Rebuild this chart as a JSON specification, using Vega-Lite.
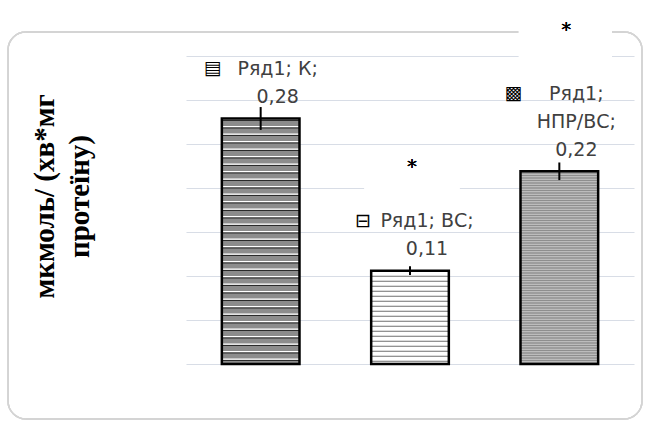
{
  "$schema": "https://vega.github.io/schema/vega-lite/v6.json",
  "width": 448,
  "height": 308,
  "autosize": {"type": "none"},
  "padding": {"left": 186, "top": 56, "right": 11, "bottom": 57},
  "background": "white",
  "config": {"view": {"stroke": null}, "font": "DejaVu Sans"},
  "data": {
    "values": [
      {"cat": "К", "value": 0.279, "lo": 0.266, "hi": 0.292, "v": "0,28", "l2": "Ряд1; К;", "l3": "", "i2": "▤", "i3": ""},
      {"cat": "ВС", "value": 0.106, "lo": 0.101, "hi": 0.111, "v": "0,11", "l2": "Ряд1; ВС;", "l3": "", "i2": "⊟", "i3": ""},
      {"cat": "НПР/ВС", "value": 0.219, "lo": 0.209, "hi": 0.229, "v": "0,22", "l2": "НПР/ВС;", "l3": "Ряд1;", "i2": "", "i3": "▩"}
    ]
  },
  "resolve": {"scale": {"x": "independent"}},
  "layer": [
    {
      "mark": {"type": "rect", "filled": false, "color": "#d4d4d4", "strokeWidth": 1.5, "cornerRadius": 18},
      "encoding": {
        "x": {"datum": -0.3973, "type": "quantitative", "scale": {"domain": [0, 1], "nice": false, "zero": false}, "axis": null},
        "x2": {"datum": 1.0179},
        "y": {"datum": 0.3773, "type": "quantitative"},
        "y2": {"datum": -0.0625}
      }
    },
    {
      "layer": [
        {
          "mark": {"type": "bar"},
          "encoding": {
            "x": {"field": "cat", "type": "nominal", "scale": {"domain": ["К", "ВС", "НПР/ВС"], "paddingInner": 0.48, "paddingOuter": 0.24}, "axis": null},
            "y": {
              "field": "value", "type": "quantitative",
              "scale": {"domain": [0, 0.35], "nice": false, "zero": true},
              "axis": {
                "values": [0, 0.05, 0.1, 0.15, 0.2, 0.25, 0.3, 0.35],
                "labels": false, "ticks": false, "domain": false,
                "grid": true, "gridColor": "#d8dde6", "gridWidth": 1.2,
                "title": ["мкмоль/ (хв*мг", "протеїну)"],
                "titleFont": "Liberation Serif", "titleFontSize": 29, "titleFontWeight": "bold",
                "titleColor": "black", "titleAngle": 270, "titleX": -142, "titleY": 140,
                "titleAlign": "center", "titleBaseline": "middle", "titleLineHeight": 35
              }
            },
            "color": {"field": "cat", "type": "nominal", "scale": {"domain": ["К", "ВС", "НПР/ВС"], "range": ["#8c8c8c", "#ffffff", "#8e8e8e"]}, "legend": null}
          }
        },
        {
          "transform": [{"filter": "datum.cat === 'К'"}],
          "mark": {"type": "rule", "color": "white", "strokeWidth": 77.6, "strokeDash": [1.2, 6.3]},
          "encoding": {"x": {"field": "cat", "type": "nominal"}, "y": {"field": "value", "type": "quantitative"}, "y2": {"datum": 0}}
        },
        {
          "transform": [{"filter": "datum.cat === 'К'"}],
          "mark": {"type": "rule", "color": "#2b2b2b", "strokeWidth": 77.6, "strokeDash": [1.1, 6.4], "strokeDashOffset": -1.5},
          "encoding": {"x": {"field": "cat", "type": "nominal"}, "y": {"field": "value", "type": "quantitative"}, "y2": {"datum": 0}}
        },
        {
          "transform": [{"filter": "datum.cat === 'ВС'"}],
          "mark": {"type": "rule", "color": "#707070", "strokeWidth": 77.6, "strokeDash": [1, 4]},
          "encoding": {"x": {"field": "cat", "type": "nominal"}, "y": {"field": "value", "type": "quantitative"}, "y2": {"datum": 0}}
        },
        {
          "transform": [{"filter": "datum.cat === 'НПР/ВС'"}],
          "mark": {"type": "rule", "color": "white", "opacity": 0.55, "strokeWidth": 77.6, "strokeDash": [1, 1.5]},
          "encoding": {"x": {"field": "cat", "type": "nominal"}, "y": {"field": "value", "type": "quantitative"}, "y2": {"datum": 0}}
        },
        {
          "mark": {"type": "bar", "filled": false, "color": "black", "strokeWidth": 2.5},
          "encoding": {"x": {"field": "cat", "type": "nominal"}, "y": {"field": "value", "type": "quantitative"}}
        },
        {
          "mark": {"type": "rule", "color": "black", "strokeWidth": 2},
          "encoding": {"x": {"field": "cat", "type": "nominal"}, "y": {"field": "lo", "type": "quantitative"}, "y2": {"field": "hi"}}
        },
        {
          "mark": {"type": "text", "font": "DejaVu Sans", "fontSize": 19, "color": "#404040", "align": "center", "baseline": "bottom", "dx": 17, "dy": -11.5},
          "encoding": {"x": {"field": "cat", "type": "nominal"}, "y": {"field": "value", "type": "quantitative"}, "text": {"field": "v"}}
        },
        {
          "mark": {"type": "text", "font": "DejaVu Sans", "fontSize": 19, "color": "#404040", "align": "center", "baseline": "bottom", "dx": 17, "dy": -39.5},
          "encoding": {"x": {"field": "cat", "type": "nominal"}, "y": {"field": "value", "type": "quantitative"}, "text": {"field": "l2"}}
        },
        {
          "mark": {"type": "text", "font": "DejaVu Sans", "fontSize": 19, "color": "#404040", "align": "center", "baseline": "bottom", "dx": 17, "dy": -67.5},
          "encoding": {"x": {"field": "cat", "type": "nominal"}, "y": {"field": "value", "type": "quantitative"}, "text": {"field": "l3"}}
        },
        {
          "mark": {"type": "text", "font": "DejaVu Sans", "fontSize": 19, "color": "black", "align": "right", "baseline": "bottom", "dx": -39, "dy": -40},
          "encoding": {"x": {"field": "cat", "type": "nominal"}, "y": {"field": "value", "type": "quantitative"}, "text": {"field": "i2"}}
        },
        {
          "mark": {"type": "text", "font": "DejaVu Sans", "fontSize": 19, "color": "black", "align": "right", "baseline": "bottom", "dx": -37, "dy": -68},
          "encoding": {"x": {"field": "cat", "type": "nominal"}, "y": {"field": "value", "type": "quantitative"}, "text": {"field": "i3"}}
        },
        {
          "mark": {"type": "bar", "color": "white", "width": 95, "xOffset": 2},
          "encoding": {"x": {"datum": "ВС", "type": "nominal"}, "y": {"datum": 0.198, "type": "quantitative"}, "y2": {"datum": 0.247}}
        },
        {
          "mark": {"type": "text", "text": "*", "font": "DejaVu Sans", "fontSize": 20, "color": "black", "align": "center", "baseline": "middle", "dx": 2, "dy": 2},
          "encoding": {"x": {"datum": "ВС", "type": "nominal"}, "y": {"datum": 0.2261, "type": "quantitative"}}
        },
        {
          "mark": {"type": "bar", "color": "white", "width": 93, "xOffset": 6},
          "encoding": {"x": {"datum": "НПР/ВС", "type": "nominal"}, "y": {"datum": 0.346, "type": "quantitative"}, "y2": {"datum": 0.405}}
        },
        {
          "mark": {"type": "text", "text": "*", "font": "DejaVu Sans", "fontSize": 20, "color": "black", "align": "center", "baseline": "middle", "dx": 7, "dy": 2},
          "encoding": {"x": {"datum": "НПР/ВС", "type": "nominal"}, "y": {"datum": 0.3815, "type": "quantitative"}}
        }
      ]
    }
  ]
}
